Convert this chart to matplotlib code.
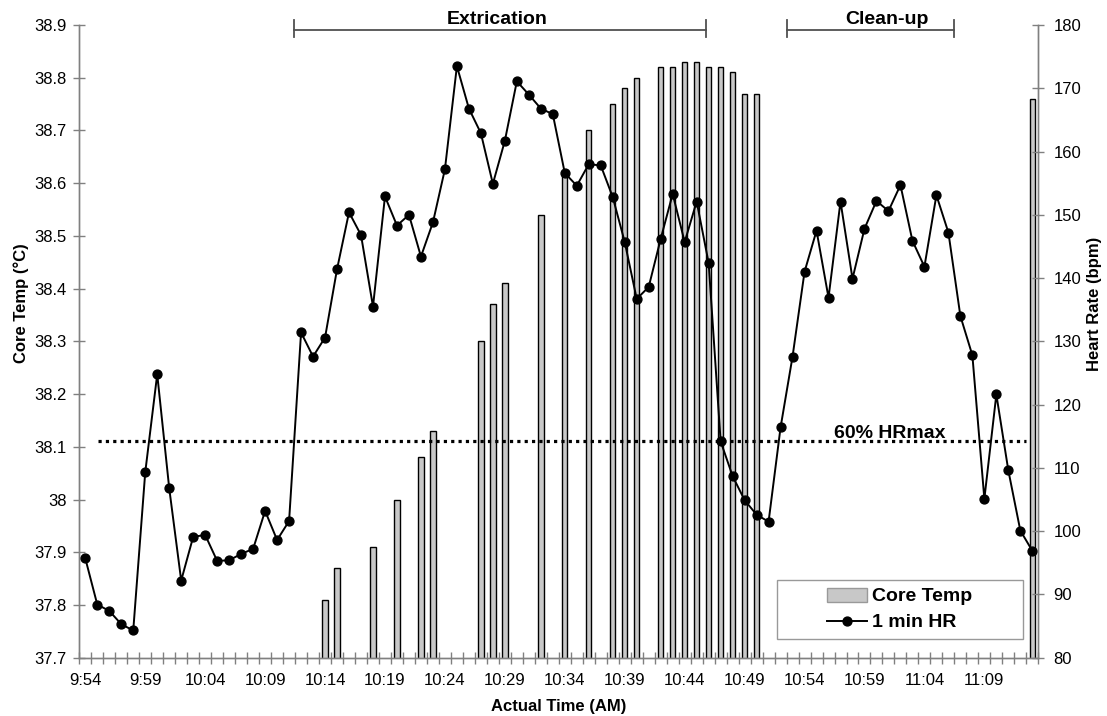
import matplotlib
matplotlib.use("Agg")
import matplotlib.pyplot as plt
from matplotlib.patches import Patch, Rectangle
from matplotlib.lines import Line2D
from matplotlib.ticker import FuncFormatter

plt.rcParams['font.family'] = ['Liberation Sans', 'DejaVu Sans']

# ---- data ----
start_h, start_m, n_min = 9, 54, 80
categories = [f"{(start_h*60+start_m+i)//60}:{(start_h*60+start_m+i)%60:02d}" for i in range(n_min)]

hr_values = [95.7, 88.4, 87.4, 85.3, 84.3, 109.3, 124.8, 106.8, 92.2, 99.1,
             99.4, 95.3, 95.4, 96.4, 97.2, 103.2, 98.6, 101.6, 131.4, 127.6,
             130.6, 141.4, 150.4, 146.8, 135.5, 152.9, 148.3, 150.0, 143.4, 148.8,
             157.2, 173.5, 166.8, 162.9, 154.9, 161.7, 171.1, 169.0, 166.8, 165.9,
             156.6, 154.6, 158.0, 157.8, 152.8, 145.7, 136.7, 138.6, 146.2, 153.3,
             145.7, 152.1, 142.4, 114.2, 108.7, 104.9, 102.6, 101.5, 116.4, 127.6,
             141.0, 147.5, 136.9, 152.1, 139.9, 147.8, 152.2, 150.6, 154.7, 145.9,
             141.8, 153.1, 147.2, 134.0, 127.8, 105.1, 121.6, 109.6, 100.1, 96.9]

temp_times = ["10:14", "10:15", "10:18", "10:20", "10:22", "10:23", "10:27", "10:28",
              "10:29", "10:32", "10:34", "10:36", "10:38", "10:39", "10:40", "10:42",
              "10:43", "10:44", "10:45", "10:46", "10:47", "10:48", "10:49", "10:50",
              "11:13"]
temp_values = [37.81, 37.87, 37.91, 38.00, 38.08, 38.13, 38.30, 38.37,
               38.41, 38.54, 38.62, 38.70, 38.75, 38.78, 38.80, 38.82,
               38.82, 38.83, 38.83, 38.82, 38.82, 38.81, 38.77, 38.77,
               38.76]

xtick_labels = ["9:54", "9:59", "10:04", "10:09", "10:14", "10:19", "10:24", "10:29",
                "10:34", "10:39", "10:44", "10:49", "10:54", "10:59", "11:04", "11:09"]

hr_threshold = 114.2   # 60% HRmax
phases = [("Extrication", 17.4, 51.75, 34.4), ("Clean-up", 58.5, 72.5, 66.9)]

# ---- figure ----
W, H = 1107, 716
fig = plt.figure(figsize=(W/100, H/100), dpi=100)
L, R, T, B = 79.3, 1038.3, 25.0, 657.7
ax = fig.add_axes([L/W, 1-B/H, (R-L)/W, (B-T)/H])
ax2 = ax.twinx()

gray = '#808080'
xpos = {c: i for i, c in enumerate(categories)}
bx = [xpos[t] for t in temp_times]
ax.bar(bx, temp_values, width=0.45, color='#c8c8c8', edgecolor='black', linewidth=1.0, zorder=2)
ax.set_ylim(37.7, 38.9)
ax.set_xlim(-0.5, n_min-0.5)
ax.set_yticks([37.7 + 0.1*k for k in range(13)])
ax.yaxis.set_major_formatter(FuncFormatter(lambda v, p: f"{round(v,1):g}"))

ax2.set_ylim(80, 180)
ax2.set_yticks(range(80, 181, 10))
ax2.plot(range(n_min), hr_values, color='black', lw=1.4, marker='o', ms=6.4, zorder=3)
ax2.plot([1.1, 78.5], [hr_threshold, hr_threshold], color='black', lw=2.3,
         linestyle=(0, (1, 1.3)), zorder=2)
ax2.text(67.1, hr_threshold + 0.6, "60% HRmax", ha='center', va='baseline',
         fontsize=14, fontweight='bold')

# phase brackets
bc = '#505050'
for name, x0, x1, xt in phases:
    ax2.plot([x0, x1], [179.2, 179.2], color=bc, lw=1.3, clip_on=False)
    for xx in (x0, x1):
        ax2.plot([xx, xx], [178.1, 180.8], color=bc, lw=1.3, clip_on=False)
    ax2.text(xt, 179.6, name, ha='center', va='bottom', fontsize=14, fontweight='bold')

# axes styling
for a in (ax, ax2):
    for s in a.spines.values():
        s.set_color(gray)
        s.set_linewidth(1.0)
    a.spines['top'].set_visible(False)

ax.set_xticks([xpos[t] for t in xtick_labels])
ax.set_xticklabels(xtick_labels)
ax.set_xticks([i - 0.5 for i in range(n_min + 1)], minor=True)
ax.tick_params(axis='x', which='major', length=0, pad=11, labelsize=12)
ax.tick_params(axis='x', which='minor', length=8, direction='inout', color=gray, width=1)
ax.tick_params(axis='y', length=8, direction='inout', color=gray, width=1, labelsize=12, pad=5)
ax2.tick_params(axis='y', length=8, direction='inout', color=gray, width=1, labelsize=12, pad=7)

ax.set_ylabel("Core Temp (°C)", fontsize=12, fontweight='bold')
ax.yaxis.set_label_coords(-0.052, 0.56)
ax2.set_ylabel("Heart Rate (bpm)", fontsize=12, fontweight='bold')
ax2.yaxis.set_label_coords(1.051, 0.56)
ax.set_xlabel("Actual Time (AM)", fontsize=12, fontweight='bold')
ax.xaxis.set_label_coords(0.5, -0.0774)
ax.xaxis.label.set_va('center')

# legend: frame drawn separately to match the wide Excel box
fig.patches.append(Rectangle((777/W, 1-639/H), (1023-777)/W, (639-580)/H,
                             transform=fig.transFigure, facecolor='white',
                             edgecolor='#999999', linewidth=1.0, zorder=5))
handles = [Patch(facecolor='#c8c8c8', edgecolor='#999999', linewidth=1),
           Line2D([], [], color='black', lw=1.4, marker='o', ms=6.4)]
leg = fig.legend(handles, ["Core Temp", "1 min HR"], loc='center left',
                 bbox_to_anchor=(827/W, 1-609.5/H), borderaxespad=0, borderpad=0,
                 prop={'size': 14, 'weight': 'bold'}, frameon=False,
                 handlelength=2.06, handleheight=0.75, handletextpad=0.26,
                 labelspacing=0.42)
leg.set_zorder(6)

fig.savefig("out.png", dpi=100)
